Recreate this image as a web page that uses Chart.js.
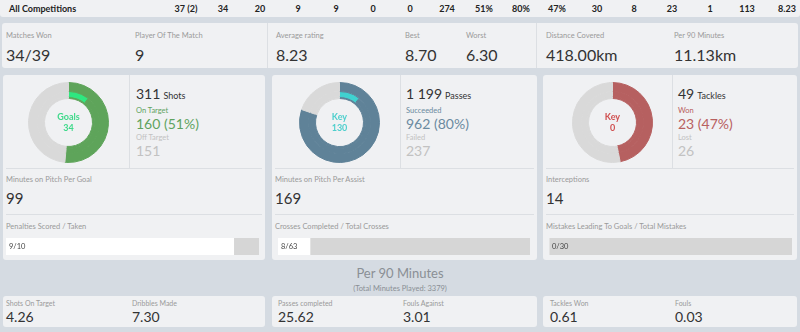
<!DOCTYPE html>
<html>
<head>
<meta charset="utf-8">
<script src="https://cdn.jsdelivr.net/npm/chart.js@4"></script>
<style>
  html, body { margin: 0; padding: 0; }
  body {
    width: 800px; height: 332px; position: relative; overflow: hidden;
    background: #d5dbe2; font-family: Lato, "Noto Sans", sans-serif; color: #333;
  }
  .abs { position: absolute; white-space: nowrap; line-height: 1; }
  .card { position: absolute; background: #f0f1f3; border-radius: 3px; }
  .lbl { font-size: 7.5px; color: #9a9a9a; }
  .val { font-size: 15px; color: #333; }
  .vline { position: absolute; width: 1px; background: #dcdfe3; }
  .hline { position: absolute; height: 1px; background: #dcdfe3; }
  .hdr { font-size: 9px; font-weight: bold; color: #222; }
  canvas { position: absolute; }
  .ctr { position: absolute; text-align: center; font-size: 9px; font-weight: bold; line-height: 11px; }
</style>
</head>
<body>
<div id="root"></div>
<script>
// ---- data ----
const competitionLabel = 'All Competitions';
const competitionValues = ['37 (2)', '34', '20', '9', '9', '0', '0', '274', '51%', '80%', '47%', '30', '8', '23', '1', '113', '8.23'];
const competitionX = [186, 223, 260, 298, 336, 373, 410, 447, 484, 521, 557, 597, 634, 672, 710, 747, 787];

const summaryLabels = ['Matches Won', 'Player Of The Match', 'Average rating', 'Best', 'Worst', 'Distance Covered', 'Per 90 Minutes'];
const summaryValues = ['34/39', '9', '8.23', '8.70', '6.30', '418.00km', '11.13km'];

// shots: on target / off target, goals inside on target
const shotsData = [160, 151];
const goalsCount = 34;
// passes: succeeded / failed, key passes inside succeeded
const passesData = [962, 237];
const keyPasses = 130;
// tackles: won / lost
const tacklesData = [23, 26];
const keyTackles = 0;

const midLabels = ['Minutes on Pitch Per Goal', 'Minutes on Pitch Per Assist', 'Interceptions'];
const midValues = ['99', '169', '14'];

const ratioLabels = ['Penalties Scored / Taken', 'Crosses Completed / Total Crosses', 'Mistakes Leading To Goals / Total Mistakes'];
const ratioDone = [9, 8, 0];
const ratioTotal = [10, 63, 30];

const per90Labels = ['Shots On Target', 'Dribbles Made', 'Passes completed', 'Fouls Against', 'Tackles Won', 'Fouls'];
const per90Values = ['4.26', '7.30', '25.62', '3.01', '0.61', '0.03'];
const totalMinutes = 3379;

// ---- layout helpers ----
const root = document.getElementById('root');
function el(cls, x, y, html, style) {
  const d = document.createElement('div');
  d.className = cls;
  d.style.left = x + 'px';
  d.style.top = y + 'px';
  if (style) Object.assign(d.style, style);
  d.innerHTML = html;
  root.appendChild(d);
  return d;
}
function box(cls, x, y, w, h) {
  return el(cls, x, y, '', { width: w + 'px', height: h + 'px' });
}

// top strip
box('card', 0, -3, 800, 20).style.borderRadius = '0 0 3px 3px';
el('abs hdr', 9, 4, competitionLabel);
competitionValues.forEach((v, i) => {
  el('abs hdr', competitionX[i] - 20, 4, v, { width: '40px', textAlign: 'center' });
});

// summary row
box('card', 2, 23, 796, 45);
box('vline', 267, 23, 1, 45);
box('vline', 536, 23, 1, 45);
const summaryX = [6, 135, 276, 405, 466, 546, 674];
summaryLabels.forEach((l, i) => {
  el('abs lbl', summaryX[i], 31.5, l);
  el('abs val', summaryX[i], 46.5, summaryValues[i], { fontSize: '16px' });
});

// main cards
const cardX = [3, 272, 543];
const cardW = [262, 265, 254];
cardX.forEach((x, i) => {
  box('card', x, 75, cardW[i], 185);
  box('vline', [129, 400, 672][i], 75, 1, 93);
  box('hline', x + 3, 168, cardW[i] - 6, 1);
  box('hline', x + 3, 214, cardW[i] - 6, 1);
  el('abs lbl', x + 3, 175.5, midLabels[i]);
  el('abs val', x + 3, 191, midValues[i]);
  el('abs lbl', x + 3, 223, ratioLabels[i]);
});

// donut text blocks
const donutText = [
  { x: 136, big: shotsData[0] + shotsData[1], unit: 'Shots', a: 'On Target', b: 'Off Target', av: shotsData[0], bv: shotsData[1], col: '#5fa35f' },
  { x: 406, big: '1 199', unit: 'Passes', a: 'Succeeded', b: 'Failed', av: passesData[0], bv: passesData[1], col: '#6b8aa0' },
  { x: 678, big: tacklesData[0] + tacklesData[1], unit: 'Tackles', a: 'Won', b: 'Lost', av: tacklesData[0], bv: tacklesData[1], col: '#b86060' }
];
donutText.forEach(t => {
  const tot = t.av + t.bv;
  el('abs val', t.x, 87, t.big + '<span style="font-size:9px;margin-left:3px">' + t.unit + '</span>', { fontSize: '14px' });
  el('abs lbl', t.x, 107, t.a, { color: t.col });
  el('abs val', t.x, 117, t.av + ' (' + Math.round(t.av / tot * 100) + '%)', { fontSize: '14px', color: t.col });
  el('abs lbl', t.x, 134, t.b, { color: '#c2c2c2' });
  el('abs val', t.x, 144, t.bv, { fontSize: '14px', color: '#c2c2c2' });
});

// per 90 section
el('abs', 300, 267, 'Per 90 Minutes', { width: '200px', textAlign: 'center', fontSize: '13px', color: '#8a8f95' });
el('abs', 300, 285, '(Total Minutes Played: ' + totalMinutes + ')', { width: '200px', textAlign: 'center', fontSize: '7.5px', color: '#8a8f95' });
const per90X = [6, 132, 278, 403, 550, 675];
cardX.forEach((x, i) => box('card', x, 296, cardW[i], 31));
per90Labels.forEach((l, i) => {
  el('abs lbl', per90X[i], 300, l, { fontSize: '7px' });
  el('abs val', per90X[i], 310, per90Values[i], { fontSize: '14px' });
});

// ---- charts ----
const GRAY = '#d9d9d9';
function makeDonut(x, y, outer, inner, innerColors, centerTop, centerBottom, centerColor) {
  const c = document.createElement('canvas');
  c.width = 81; c.height = 81;
  c.style.left = x + 'px'; c.style.top = y + 'px';
  root.appendChild(c);
  const ring = (data, colors, weight) => ({
    data: data, backgroundColor: colors, borderColor: colors, borderWidth: 1, weight: weight
  });
  new Chart(c, {
    type: 'doughnut',
    data: {
      datasets: [
        ring(outer.data, outer.colors, 9),
        ring(inner, innerColors, 5),
        ring(outer.data, outer.colors, 2)
      ]
    },
    options: {
      responsive: false, animation: false, cutout: '60%',
      layout: { padding: 0 },
      plugins: { legend: { display: false }, tooltip: { enabled: false } }
    }
  });
  el('ctr', x, y + 29, centerTop + '<br>' + centerBottom, { width: '81px', color: centerColor });
}

makeDonut(28, 82, { data: shotsData, colors: ['#5ea45a', GRAY] },
  [goalsCount, shotsData[0] - goalsCount, shotsData[1]], ['#2ee880', '#5ea45a', GRAY],
  'Goals', goalsCount, '#3ed98a');
makeDonut(299, 82, { data: passesData, colors: ['#5f8298', GRAY] },
  [keyPasses, passesData[0] - keyPasses, passesData[1]], ['#3fd2d0', '#5f8298', GRAY],
  'Key', keyPasses, '#4fcfcd');
makeDonut(572, 82, { data: tacklesData, colors: ['#b66060', GRAY] },
  [keyTackles, tacklesData[0] - keyTackles, tacklesData[1]], ['#b66060', '#b66060', GRAY],
  'Key', keyTackles, '#d05050');

// ratio bars
const barX = [6, 278, 549];
const barW = [253, 252, 243];
ratioDone.forEach((d, i) => {
  const c = document.createElement('canvas');
  c.width = barW[i]; c.height = 17;
  c.style.left = barX[i] + 'px'; c.style.top = '238px';
  root.appendChild(c);
  new Chart(c, {
    type: 'bar',
    data: {
      labels: [ratioLabels[i]],
      datasets: [
        { data: [d], backgroundColor: '#ffffff', borderWidth: 0 },
        { data: [ratioTotal[i] - d], backgroundColor: '#d6d6d6', borderWidth: 0 }
      ]
    },
    options: {
      indexAxis: 'y', responsive: false, animation: false,
      layout: { padding: 0 },
      datasets: { bar: { barPercentage: 1, categoryPercentage: 1 } },
      scales: {
        x: { stacked: true, min: 0, max: ratioTotal[i], display: false },
        y: { stacked: true, display: false }
      },
      plugins: { legend: { display: false }, tooltip: { enabled: false } }
    }
  });
  el('abs', barX[i] + 3, 243, d + '/' + ratioTotal[i], { fontSize: '7.5px', color: '#444' });
});
</script>
</body>
</html>
